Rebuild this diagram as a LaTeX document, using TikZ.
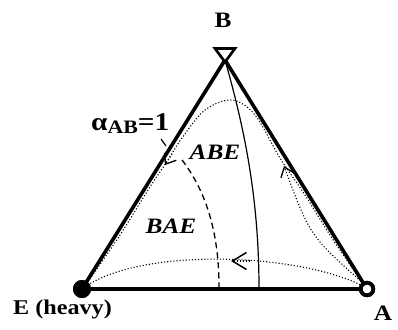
\documentclass[tikz,border=0pt]{standalone}
\usepackage{fontspec}
\usepackage{graphicx}
\setmainfont{Liberation Serif}
\usetikzlibrary{arrows.meta}
\newcommand{\wide}[1]{\scalebox{1.15}[1]{#1}}

\begin{document}
\begin{tikzpicture}[x=1pt,y=-1pt,
  edge/.style={line width=3.6pt,line cap=round},
  residue/.style={dotted,line width=1.1pt},
  barb/.style={-{Straight Barb[length=9pt,width=14pt,line width=1.3pt]}},
  bigbarb/.style={-{Straight Barb[length=14pt,width=17pt,line width=1.5pt]}},
  lbl/.style={inner sep=0pt,font=\bfseries\fontsize{22}{22}\selectfont}]
\useasboundingbox (0,0) rectangle (398,329);
% corners
\coordinate (top) at (225,60);
\node[circle,fill=black,minimum size=18pt,inner sep=0pt] (E) at (82,289) {};
\node[circle,draw=black,fill=white,line width=3.8pt,minimum size=12.5pt,inner sep=0pt] (A) at (367,289) {};
\coordinate (foot) at (259,289);
\coordinate (split) at (182,160);
\coordinate (splitfoot) at (219,287);
% residue curves
\draw[residue] plot[smooth,tension=0.55] coordinates {(363,284) (330,235) (305,195) (280,158) (255,115) (232,100) (205,110) (182,138) (166,163) (148,190) (120,235) (85,286)};
\draw[residue,barb] (172,154) -- (165,165);
\draw[residue,barb] (363,283) .. controls (310,236) .. (284,166);
\draw[residue] (363,286) .. controls (295,252) and (140,248) .. (85,287);
\draw[residue,bigbarb] (250,261) -- (231,261);
% boundaries
\draw[line width=1.2pt] (top) .. controls (245,130) and (259,200) .. (foot);
\draw[line width=1.3pt,dash pattern=on 6pt off 4pt] (split) .. controls (205,190) and (219,230) .. (splitfoot);
\draw[line width=1.2pt] (161,139) -- (166,146);
% triangle
\draw[edge] (E.center) -- (A.center);
\draw[edge] (E.center) -- (top) -- (A.center);
\node[circle,fill=black,minimum size=18pt,inner sep=0pt] at (E) {};
\node[circle,draw=black,fill=white,line width=3.8pt,minimum size=12.5pt,inner sep=0pt] at (A) {};
\draw[line width=2.6pt,fill=white,line join=miter] (215,48.5) -- (235,48.5) -- (225,62) -- cycle;
% labels
\node[lbl,anchor=base] (lB) at (223,28) {\wide{B}};
\node[lbl,anchor=base west,font=\bfseries\fontsize{21}{21}\selectfont] (lE) at (13,314) {\wide{E (heavy)}};
\node[lbl,anchor=base] (lA) at (383,320) {\wide{A}};
\node[lbl,anchor=base west,font=\bfseries\fontsize{25.5}{25.5}\selectfont] (lalpha) at (91,130) {\wide{α\raisebox{-0.3ex}{\fontsize{19}{19}\selectfont AB}=1}};
\node[lbl,anchor=base,font=\bfseries\itshape\fontsize{22}{22}\selectfont] (lABE) at (215,159) {\wide{ABE}};
\node[lbl,anchor=base,font=\bfseries\itshape\fontsize{22}{22}\selectfont] (lBAE) at (171,233) {\wide{BAE}};
\end{tikzpicture}
\end{document}
